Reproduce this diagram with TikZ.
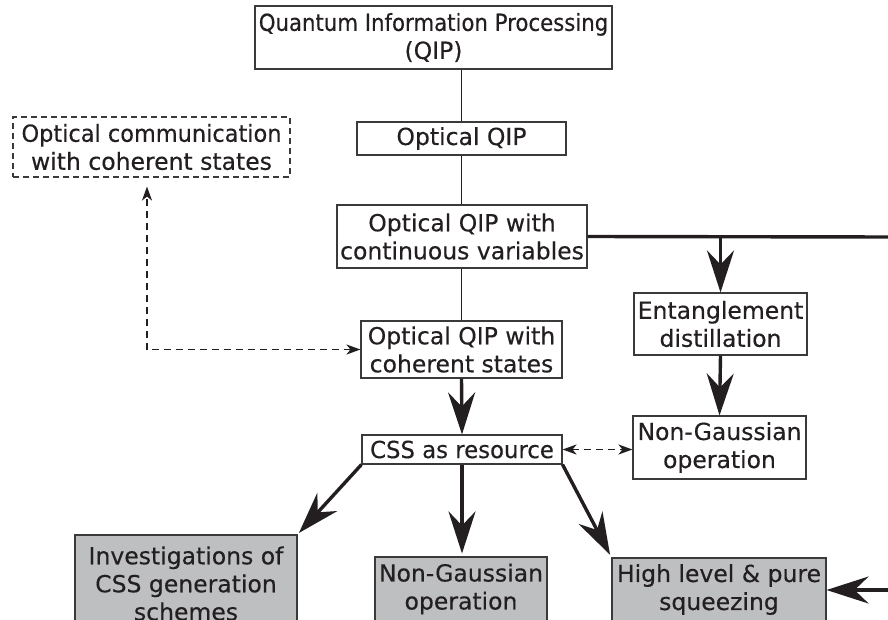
\documentclass[tikz,border=0pt]{standalone}
\usepackage{fontspec}
\setmainfont{DejaVu Sans}[FakeBold=0.35]
\usetikzlibrary{arrows.meta}
\definecolor{ink}{HTML}{231F20}
\definecolor{boxline}{HTML}{3A3A3A}
\definecolor{shade}{RGB}{190,191,193}

\begin{document}
\begin{tikzpicture}[x=1pt,y=-1pt,
  box/.style={draw=boxline, line width=1.1pt, rectangle, inner sep=0pt,
    align=center, text=ink, font=\fontsize{23.5}{28}\selectfont},
  result/.style={box, fill=shade},
  dashbox/.style={box, dash pattern=on 6pt off 4pt},
  wire/.style={draw=ink, line width=1.6pt},
  trunk/.style={draw=ink, line width=3.4pt},
  flow/.style={draw=ink, line width=3.4pt,
    -{Stealth[length=42pt,width=27pt,inset=14pt]}},
  link/.style={draw=ink, line width=1.9pt, dash pattern=on 7pt off 5pt},
  smalltip/.tip={Stealth[length=14pt,width=10pt,inset=4pt]}
]
\useasboundingbox (0,0) rectangle (888,619);
\clip (0,0) rectangle (888,619);

% boxes of the hierarchy
\node[box, minimum width=357pt, minimum height=63pt] (qip) at (433.5,37.5)
  {\scalebox{0.905}[1]{Quantum Information Processing}\\(QIP)};
\node[box, minimum width=209pt, minimum height=33pt] (oqip) at (461.5,138.5)
  {Optical QIP};
\node[dashbox, minimum width=277pt, minimum height=60pt] (comm) at (151.5,147)
  {\scalebox{0.955}[1]{Optical communication}\\with coherent states};
\node[box, minimum width=250pt, minimum height=63pt] (cv) at (462,236.5)
  {Optical QIP with\\continuous variables};
\node[box, minimum width=173pt, minimum height=62pt] (ent) at (720.5,324)
  {Entanglement\\distillation};
\node[box, minimum width=173pt, minimum height=63pt] (ngr) at (719.5,447.5)
  {Non-Gaussian\\operation};
\node[box, minimum width=201pt, minimum height=57pt] (coh) at (461.5,349.5)
  {Optical QIP with\\coherent states};
\node[box, minimum width=200pt, minimum height=29pt] (css) at (462,449.5)
  {\scalebox{0.97}[1]{CSS as resource}};

% shaded outcome boxes
\node[result, minimum width=222pt, minimum height=97pt] (inv) at (186,583.5)
  {Investigations of\\CSS generation\\schemes};
\node[result, minimum width=172pt, minimum height=64pt] (ngb) at (461,589)
  {Non-Gaussian\\operation};
\node[result, minimum width=214pt, minimum height=63pt] (hl) at (719,589.5)
  {High level \& pure\\squeezing};

% free ends running off the right edge
\coordinate (edgeA) at (900,237);
\coordinate (edgeB) at (900,590);
\coordinate (split) at (ent.north |- cv.east);

% thin links
\draw[wire] (oqip.north |- qip.south) -- (oqip.north);
\draw[wire] (oqip.south) -- (oqip.south |- cv.north);
\draw[wire] (cv.south -| coh.north) -- (coh.north);

% thick flows
\draw[trunk] (cv.east) -- (edgeA);
\draw[flow] (split) -- (ent.north);
\draw[flow] (ent.south) -- (ngr.north);
\draw[flow] (coh.south) -- (css.north);
\draw[flow, shorten >=2pt] (css.south west) -- (inv.north east);
\draw[flow, shorten >=3pt] (css.south) -- (css.south |- ngb.north);
\draw[flow, shorten >=3pt] (css.south east) -- (hl.north west);
\draw[flow] (edgeB) -- (edgeB -| hl.east);

% dashed two-way links
\draw[link, {smalltip}-{smalltip}] (css.east) -- (css.east -| ngr.west);
\draw[link, {smalltip}-{smalltip}, shorten >=9pt]
  (coh.west) -| ([xshift=-4.5pt]comm.south);
\end{tikzpicture}
\end{document}
